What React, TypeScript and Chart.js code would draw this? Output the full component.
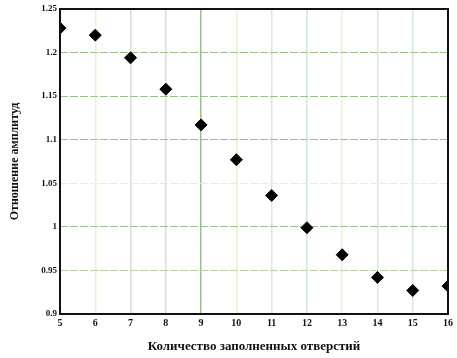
import React, { useEffect, useRef } from "react";
import { Chart, registerables } from "chart.js";
Chart.register(...registerables);

const holes = [5, 6, 7, 8, 9, 10, 11, 12, 13, 14, 15, 16];
const ratio = [1.228, 1.22, 1.194, 1.158, 1.117, 1.077, 1.036, 0.999, 0.968, 0.942, 0.927, 0.932];
const xTicks = [5, 6, 7, 8, 9, 10, 11, 12, 13, 14, 15, 16];
const yTicks = [0.9, 0.95, 1, 1.05, 1.1, 1.15, 1.2, 1.25];
const xTitle = "Количество заполненных отверстий";
const yTitle = "Отношение амплитуд";
const vGridColors = ["#000", "#eef0cf", "#dcdcdc", "#dcdcdc", "#9cc08a", "#eef0cf", "#d6e6e6", "#d6e6e6", "#eef0cf", "#d6e6e6", "#d6e6e6", "#000"];
const hGridColors = ["#000", "#b8d0a8", "#9cc08a", "#e6ece0", "#9cc08a", "#9cc08a", "#9cc08a", "#000"];

const frame = {
  id: "frame",
  afterDraw(c: any) {
    const { ctx, chartArea: a } = c;
    ctx.save();
    ctx.strokeStyle = "#111";
    ctx.lineWidth = 2;
    ctx.strokeRect(a.left, a.top, a.right - a.left, a.bottom - a.top);
    ctx.restore();
  },
};

export default function App() {
  const ref = useRef<HTMLCanvasElement>(null);
  useEffect(() => {
    document.body.style.margin = "0";
    const font = { family: "'Liberation Serif', 'DejaVu Serif', serif", weight: "bold" as const };
    const chart = new Chart(ref.current!, {
      type: "scatter",
      data: {
        datasets: [
          {
            data: holes.map((x, i) => ({ x, y: ratio[i] })),
            pointStyle: "rectRot",
            pointRadius: 6,
            backgroundColor: "#000",
            borderColor: "#000",
            borderWidth: 1,
          },
        ],
      },
      options: {
        animation: false,
        responsive: false,
        layout: { padding: { top: 9, right: 9, left: 4, bottom: 0 } },
        plugins: { legend: { display: false }, tooltip: { enabled: false } },
        scales: {
          x: {
            type: "linear",
            min: 5,
            max: 16,
            afterBuildTicks: (s: any) => { s.ticks = xTicks.map((v) => ({ value: v })); },
            afterFit: (s: any) => { s.height = 44; },
            ticks: { color: "#111", font: { ...font, size: 10 }, padding: 3 },
            grid: {
              color: (c: any) => vGridColors[c.index] ?? "#ddd",
              lineWidth: 1.5,
              drawTicks: false,
            },
            border: { display: false },
            title: { display: true, text: xTitle, color: "#111", font: { ...font, size: 13 }, padding: { top: 13 } },
          },
          y: {
            type: "linear",
            min: 0.9,
            max: 1.25,
            afterBuildTicks: (s: any) => { s.ticks = yTicks.map((v) => ({ value: v })); },
            afterFit: (s: any) => { s.width = 56; },
            ticks: {
              color: "#111",
              font: { ...font, size: 9 },
              padding: 3,
              callback: (v: any) => String(Math.round(Number(v) * 100) / 100),
            },
            grid: { color: (c: any) => hGridColors[c.index] ?? "#9cc08a", lineWidth: 1, drawTicks: false },
            border: { display: false, dash: [8, 2] },
            title: { display: true, text: yTitle, color: "#111", font: { ...font, size: 12 }, padding: { bottom: 4 } },
          },
        },
      },
      plugins: [frame],
    });
    return () => chart.destroy();
  }, []);
  return <canvas ref={ref} width={457} height={358} style={{ display: "block" }} />;
}
